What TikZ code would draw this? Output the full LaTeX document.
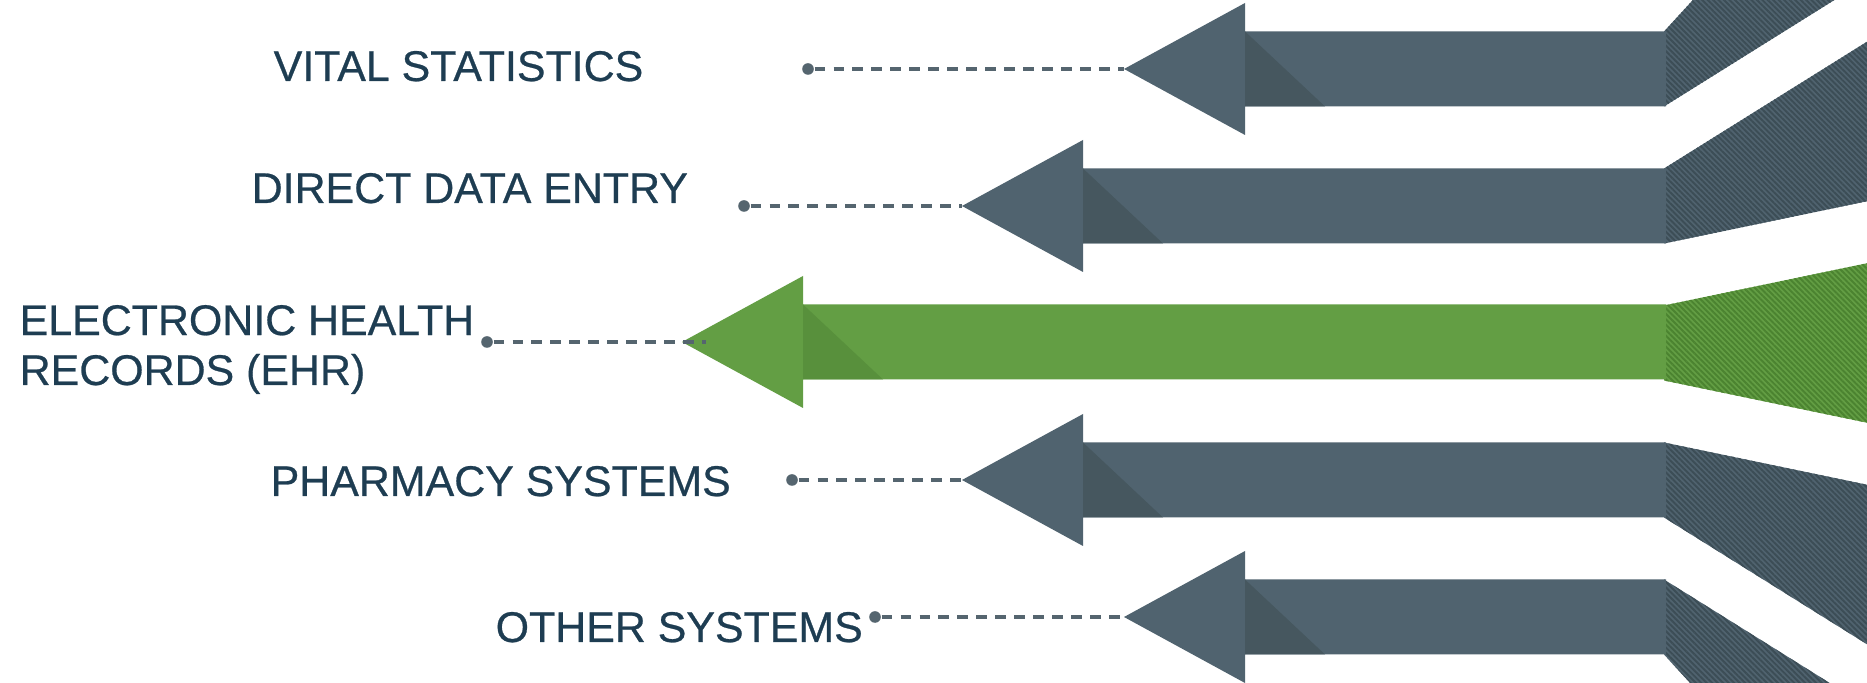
\documentclass[tikz,border=0pt]{standalone}
\usepackage{fontspec}
\setmainfont{Liberation Sans}
\newfontfamily\srcfont[FakeBold=0.6]{Liberation Sans}
\usepackage{xcolor}
\usepackage{tikz}
\usetikzlibrary{patterns.meta}
\definecolor{slate}{HTML}{50636F}
\definecolor{slateshade}{HTML}{46575F}
\definecolor{slatestripe}{HTML}{3C4D56}
\definecolor{leaf}{HTML}{639E44}
\definecolor{leafshade}{HTML}{58903C}
\definecolor{leafstripe}{HTML}{4B8330}
\definecolor{navy}{HTML}{1E3D52}
\definecolor{leadgrey}{HTML}{55656F}

\begin{document}
\begin{tikzpicture}[x=0.01cm, y=-0.01cm,
  srcname/.style={anchor=base west, inner sep=0pt, text=navy,
    font=\srcfont\fontsize{12.2}{14.2}\selectfont},
  srcdot/.style={circle, fill=leadgrey, inner sep=0pt, minimum size=3.3pt},
  feed/.style={draw=leadgrey, line width=1pt, dash pattern=on 3.1pt off 2.3pt},
  slatehatch/.style={fill=slate, postaction={pattern={Lines[angle=-45,distance=1.1pt,line width=0.55pt]},pattern color=slatestripe}},
  leafhatch/.style={fill=leaf, postaction={pattern={Lines[angle=-45,distance=1.1pt,line width=0.55pt]},pattern color=leafstripe}}]
\useasboundingbox (0,0) rectangle (1867,683);
\clip (0,0) rectangle (1867,683);
% fanned ends on the right
\fill[slatehatch] (1664,31.5) -- (1900,-226) -- (1900,-41) -- (1664,106.5) -- cycle;
\fill[slatehatch] (1664,168.5) -- (1900,21.1) -- (1900,194.4) -- (1664,243.5) -- cycle;
\fill[leafhatch] (1664,305.5) -- (1900,256.4) -- (1900,429.6) -- (1664,380.5) -- cycle;
\fill[slatehatch] (1664,442.5) -- (1900,491.6) -- (1900,664.9) -- (1664,517.5) -- cycle;
\fill[slatehatch] (1664,579.5) -- (1900,726.9) -- (1900,911.9) -- (1664,654.5) -- cycle;
% arrows
\fill[slate] (1124,69) -- (1245,3) -- (1245,31.5) -- (1666,31.5) -- (1666,106.5) -- (1245,106.5) -- (1245,135) -- cycle;
\fill[slateshade] (1245,31.5) -- (1325,106.5) -- (1245,106.5) -- cycle;
\fill[slate] (962,206) -- (1083,140) -- (1083,168.5) -- (1666,168.5) -- (1666,243.5) -- (1083,243.5) -- (1083,272) -- cycle;
\fill[slateshade] (1083,168.5) -- (1163,243.5) -- (1083,243.5) -- cycle;
\fill[leaf] (682,342) -- (803,276) -- (803,304.5) -- (1666,304.5) -- (1666,379.5) -- (803,379.5) -- (803,408) -- cycle;
\fill[leafshade] (803,304.5) -- (883,379.5) -- (803,379.5) -- cycle;
\fill[slate] (962,480) -- (1083,414) -- (1083,442.5) -- (1666,442.5) -- (1666,517.5) -- (1083,517.5) -- (1083,546) -- cycle;
\fill[slateshade] (1083,442.5) -- (1163,517.5) -- (1083,517.5) -- cycle;
\fill[slate] (1124,617) -- (1245,551) -- (1245,579.5) -- (1666,579.5) -- (1666,654.5) -- (1245,654.5) -- (1245,683) -- cycle;
\fill[slateshade] (1245,579.5) -- (1325,654.5) -- (1245,654.5) -- cycle;
% tips
\coordinate (vstip) at (1124,69);
\coordinate (ddetip) at (962,206);
\coordinate (ehrend) at (706,342);
\coordinate (pstip) at (962,480);
\coordinate (ostip) at (1124,617);
% labels and leads
\node[srcname] (vstext) at (273,81) {VITAL STATISTICS};
\node[srcname] (ddetext) at (251,203) {DIRECT DATA ENTRY};
\node[srcname, align=left] (ehrtext) at (19,385) {ELECTRONIC HEALTH\\RECORDS (EHR)};
\node[srcname] (pstext) at (270,496) {PHARMACY SYSTEMS};
\node[srcname] (ostext) at (495,642) {OTHER SYSTEMS};
\node[srcdot] (vsdot) at (808,69) {};
\node[srcdot] (ddedot) at (744,206) {};
\node[srcdot] (ehrdot) at (487,342) {};
\node[srcdot] (psdot) at (792,480) {};
\node[srcdot] (osdot) at (875,617) {};
\draw[feed] (vsdot) -- (vstip);
\draw[feed] (ddedot) -- (ddetip);
\draw[feed] (ehrdot) -- (ehrend);
\draw[feed] (psdot) -- (pstip);
\draw[feed] (osdot) -- (ostip);
\end{tikzpicture}
\end{document}
